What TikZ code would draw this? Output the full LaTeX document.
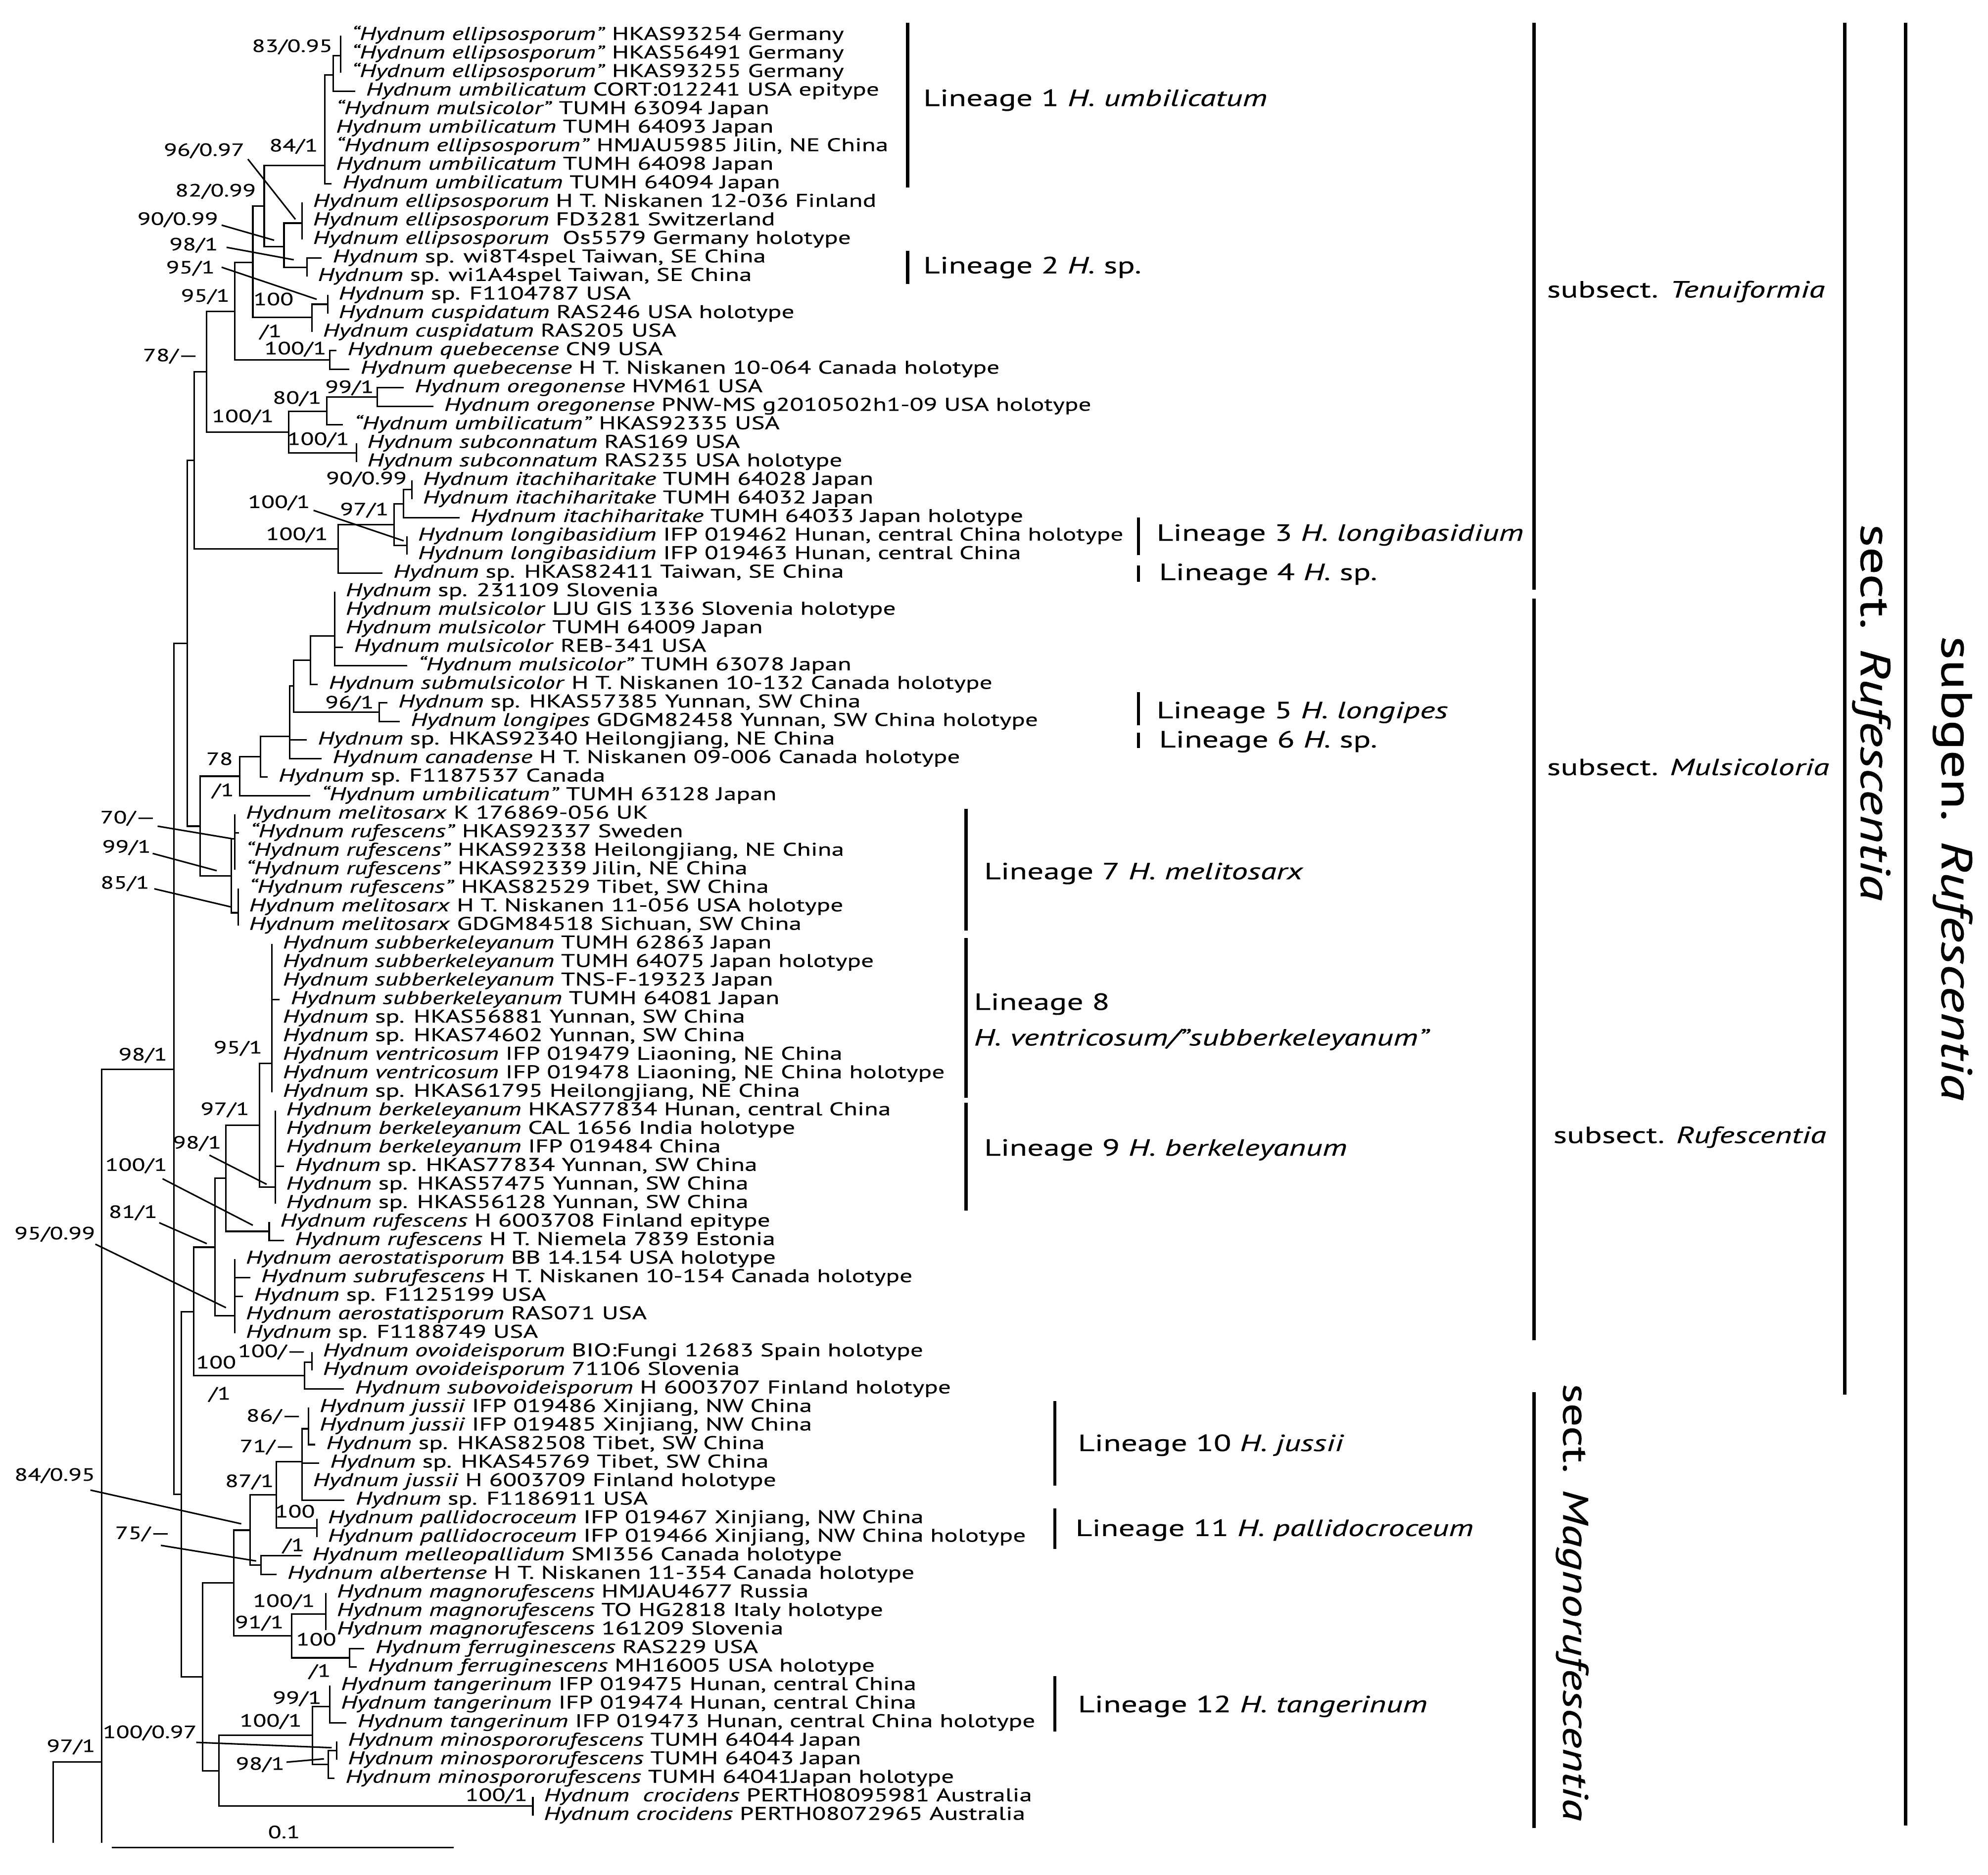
\documentclass[tikz,border=0pt]{standalone}
\usepackage{fontspec}
\setmainfont{PT Sans}[FakeStretch=1.38,FakeBold=0.3]
\newfontfamily\rotfont{PT Sans}[FakeStretch=1.3,FakeBold=0.6]
\newcommand\lv[3]{\coordinate (t#1) at (#2,{13.375+14.625*#1});\node[lf] (l#1) at (t#1) {#3};}
\begin{document}
\begin{tikzpicture}[x=1pt,y=-1pt,
  br/.style={line width=1.2pt},
  ptr/.style={line width=1.2pt},
  barline/.style={line width=2.6pt},
  lf/.style={anchor=west,inner sep=0pt,xshift=8.5pt,font=\fontsize{14.5}{14.5}\selectfont,text height=10pt,text depth=3pt},
  sup/.style={inner sep=0pt,font=\fontsize{14}{14}\selectfont,text height=10pt,text depth=2pt},
  lin/.style={anchor=west,inner sep=0pt,font=\fontsize{18.5}{18.5}\selectfont},
  subs/.style={anchor=west,inner sep=0pt,font=\fontsize{18.5}{18.5}\selectfont},
  rot/.style={rotate=-90,inner sep=0pt,font=\rotfont\fontsize{28}{28}\selectfont}]
\fill[white] (0,0) rectangle (1568,1479);
\useasboundingbox (0,0) rectangle (1568,1479);
% ---------------- leaves
\lv{1}{268.5}{\textit{“Hydnum ellipsosporum”} HKAS93254 Germany}
\lv{2}{268.5}{\textit{“Hydnum ellipsosporum”} HKAS56491 Germany}
\lv{3}{268.5}{\textit{“Hydnum ellipsosporum”} HKAS93255 Germany}
\lv{4}{280}{\textit{Hydnum umbilicatum} CORT:012241 USA epitype}
\lv{5}{256.3}{\textit{“Hydnum mulsicolor”} TUMH 63094 Japan}
\lv{6}{256.3}{\textit{Hydnum umbilicatum} TUMH 64093 Japan}
\lv{7}{256.3}{\textit{“Hydnum ellipsosporum”} HMJAU5985 Jilin, NE China}
\lv{8}{256.3}{\textit{Hydnum umbilicatum} TUMH 64098 Japan}
\lv{9}{261.5}{\textit{Hydnum umbilicatum} TUMH 64094 Japan}
\lv{10}{238.2}{\textit{Hydnum ellipsosporum} H T. Niskanen 12-036 Finland}
\lv{11}{238.2}{\textit{Hydnum ellipsosporum} FD3281 Switzerland}
\lv{12}{238.2}{\textit{Hydnum ellipsosporum}\ \ Os5579 Germany holotype}
\lv{13}{253.7}{\textit{Hydnum} sp. wi8T4spel Taiwan, SE China}
\lv{14}{242}{\textit{Hydnum} sp. wi1A4spel Taiwan, SE China}
\lv{15}{258.4}{\textit{Hydnum} sp. F1104787 USA}
\lv{16}{258.4}{\textit{Hydnum cuspidatum} RAS246 USA holotype}
\lv{17}{246}{\textit{Hydnum cuspidatum} RAS205 USA}
\lv{18}{265.4}{\textit{Hydnum quebecense} CN9 USA}
\lv{19}{275.7}{\textit{Hydnum quebecense} H T. Niskanen 10-064 Canada holotype}
\lv{20}{318.4}{\textit{Hydnum oregonense} HVM61 USA}
\lv{21}{341.7}{\textit{Hydnum oregonense} PNW-MS g2010502h1-09 USA holotype}
\lv{22}{270.6}{\textit{“Hydnum umbilicatum”} HKAS92335 USA}
\lv{23}{281}{\textit{Hydnum subconnatum} RAS169 USA}
\lv{24}{281}{\textit{Hydnum subconnatum} RAS235 USA holotype}
\lv{25}{324.9}{\textit{Hydnum itachiharitake} TUMH 64028 Japan}
\lv{26}{324.9}{\textit{Hydnum itachiharitake} TUMH 64032 Japan}
\lv{27}{362.4}{\textit{Hydnum itachiharitake} TUMH 64033 Japan holotype}
\lv{28}{321}{\textit{Hydnum longibasidium} IFP 019462 Hunan, central China holotype}
\lv{29}{321}{\textit{Hydnum longibasidium} IFP 019463 Hunan, central China}
\lv{30}{301.6}{\textit{Hydnum} sp. HKAS82411 Taiwan, SE China}
\lv{31}{264}{\textit{Hydnum} sp. 231109 Slovenia}
\lv{32}{264}{\textit{Hydnum mulsicolor} LJU GIS 1336 Slovenia holotype}
\lv{33}{264}{\textit{Hydnum mulsicolor} TUMH 64009 Japan}
\lv{34}{270.5}{\textit{Hydnum mulsicolor} REB-341 USA}
\lv{35}{321}{\textit{“Hydnum mulsicolor”} TUMH 63078 Japan}
\lv{36}{250.6}{\textit{Hydnum submulsicolor} H T. Niskanen 10-132 Canada holotype}
\lv{37}{305.5}{\textit{Hydnum} sp. HKAS57385 Yunnan, SW China}
\lv{38}{315.3}{\textit{Hydnum longipes} GDGM82458 Yunnan, SW China holotype}
\lv{39}{242}{\textit{Hydnum} sp. HKAS92340 Heilongjiang, NE China}
\lv{40}{253.7}{\textit{Hydnum canadense} H T. Niskanen 09-006 Canada holotype}
\lv{41}{211}{\textit{Hydnum} sp. F1187537 Canada}
\lv{42}{244.7}{\textit{“Hydnum umbilicatum”} TUMH 63128 Japan}
\lv{43}{185.2}{\textit{Hydnum melitosarx} K 176869-056 UK}
\lv{44}{188.6}{\textit{“Hydnum rufescens”} HKAS92337 Sweden}
\lv{45}{185.2}{\textit{“Hydnum rufescens”} HKAS92338 Heilongjiang, NE China}
\lv{46}{185.2}{\textit{“Hydnum rufescens”} HKAS92339 Jilin, NE China}
\lv{47}{187.8}{\textit{“Hydnum rufescens”} HKAS82529 Tibet, SW China}
\lv{48}{187.8}{\textit{Hydnum melitosarx} H T. Niskanen 11-056 USA holotype}
\lv{49}{187.8}{\textit{Hydnum melitosarx} GDGM84518 Sichuan, SW China}
\lv{50}{214.4}{\textit{Hydnum subberkeleyanum} TUMH 62863 Japan}
\lv{51}{214.4}{\textit{Hydnum subberkeleyanum} TUMH 64075 Japan holotype}
\lv{52}{214.4}{\textit{Hydnum subberkeleyanum} TNS-F-19323 Japan}
\lv{53}{220.6}{\textit{Hydnum subberkeleyanum} TUMH 64081 Japan}
\lv{54}{214.4}{\textit{Hydnum} sp. HKAS56881 Yunnan, SW China}
\lv{55}{214.4}{\textit{Hydnum} sp. HKAS74602 Yunnan, SW China}
\lv{56}{214.4}{\textit{Hydnum ventricosum} IFP 019479 Liaoning, NE China}
\lv{57}{214.4}{\textit{Hydnum ventricosum} IFP 019478 Liaoning, NE China holotype}
\lv{58}{214.4}{\textit{Hydnum} sp. HKAS61795 Heilongjiang, NE China}
\lv{59}{217}{\textit{Hydnum berkeleyanum} HKAS77834 Hunan, central China}
\lv{60}{217}{\textit{Hydnum berkeleyanum} CAL 1656 India holotype}
\lv{61}{217}{\textit{Hydnum berkeleyanum} IFP 019484 China}
\lv{62}{224}{\textit{Hydnum} sp. HKAS77834 Yunnan, SW China}
\lv{63}{217}{\textit{Hydnum} sp. HKAS57475 Yunnan, SW China}
\lv{64}{217}{\textit{Hydnum} sp. HKAS56128 Yunnan, SW China}
\lv{65}{212.3}{\textit{Hydnum rufescens} H 6003708 Finland epitype}
\lv{66}{224}{\textit{Hydnum rufescens} H T. Niemela 7839 Estonia}
\lv{67}{185.2}{\textit{Hydnum aerostatisporum} BB 14.154 USA holotype}
\lv{68}{197.3}{\textit{Hydnum subrufescens} H T. Niskanen 10-154 Canada holotype}
\lv{69}{191.6}{\textit{Hydnum} sp. F1125199 USA}
\lv{70}{185.2}{\textit{Hydnum aerostatisporum} RAS071 USA}
\lv{71}{185.2}{\textit{Hydnum} sp. F1188749 USA}
\lv{72}{246}{\textit{Hydnum ovoideisporum} BIO:Fungi 12683 Spain holotype}
\lv{73}{246}{\textit{Hydnum ovoideisporum} 71106 Slovenia}
\lv{74}{271.3}{\textit{Hydnum subovoideisporum} H 6003707 Finland holotype}
\lv{75}{243.4}{\textit{Hydnum jussii} IFP 019486 Xinjiang, NW China}
\lv{76}{243.4}{\textit{Hydnum jussii} IFP 019485 Xinjiang, NW China}
\lv{77}{248.6}{\textit{Hydnum} sp. HKAS82508 Tibet, SW China}
\lv{78}{251.7}{\textit{Hydnum} sp. HKAS45769 Tibet, SW China}
\lv{79}{238.2}{\textit{Hydnum jussii} H 6003709 Finland holotype}
\lv{80}{271.8}{\textit{Hydnum} sp. F1186911 USA}
\lv{81}{249.9}{\textit{Hydnum pallidocroceum} IFP 019467 Xinjiang, NW China}
\lv{82}{249.9}{\textit{Hydnum pallidocroceum} IFP 019466 Xinjiang, NW China holotype}
\lv{83}{237.7}{\textit{Hydnum melleopallidum} SMI356 Canada holotype}
\lv{84}{218}{\textit{Hydnum albertense} H T. Niskanen 11-354 Canada holotype}
\lv{85}{257}{\textit{Hydnum magnorufescens} HMJAU4677 Russia}
\lv{86}{257}{\textit{Hydnum magnorufescens} TO HG2818 Italy holotype}
\lv{87}{257}{\textit{Hydnum magnorufescens} 161209 Slovenia}
\lv{88}{287.4}{\textit{Hydnum ferruginescens} RAS229 USA}
\lv{89}{281.4}{\textit{Hydnum ferruginescens} MH16005 USA holotype}
\lv{90}{260.2}{\textit{Hydnum tangerinum} IFP 019475 Hunan, central China}
\lv{91}{260.2}{\textit{Hydnum tangerinum} IFP 019474 Hunan, central China}
\lv{92}{273.3}{\textit{Hydnum tangerinum} IFP 019473 Hunan, central China holotype}
\lv{93}{265.7}{\textit{Hydnum minospororufescens} TUMH 64044 Japan}
\lv{94}{265.7}{\textit{Hydnum minospororufescens} TUMH 64043 Japan}
\lv{95}{263.8}{\textit{Hydnum minospororufescens} TUMH 64041Japan holotype}
\lv{96}{420.3}{\textit{Hydnum\ \ crocidens} PERTH08095981 Australia}
\lv{97}{420.3}{\textit{Hydnum crocidens} PERTH08072965 Australia}
% ---------------- internal nodes
\coordinate (nA1) at (268.5,44);
\coordinate (nA) at (263,59);
\coordinate (n84) at (256.3,130.4);
\coordinate (nEll) at (238.2,176);
\coordinate (nWi) at (242,210.8);
\coordinate (n90) at (224,194.5);
\coordinate (n82) at (208.4,162.6);
\coordinate (nCuspA) at (258.4,240);
\coordinate (nCusp) at (246,250.5);
\coordinate (n82b) at (199.4,206.9);
\coordinate (nQue) at (260.2,284);
\coordinate (n95) at (185.2,245.5);
\coordinate (nOre) at (297.7,313.2);
\coordinate (n80) at (257.6,324.6);
\coordinate (nSubc) at (281,357.1);
\coordinate (n100a) at (227.8,340.8);
\coordinate (n78) at (163.1,293.2);
\coordinate (nItaA) at (324.9,386.3);
\coordinate (nIta) at (318.4,397.4);
\coordinate (nLong) at (321,430.2);
\coordinate (n97) at (310.7,413.8);
\coordinate (n100b) at (266.7,433);
\coordinate (nTen) at (153.3,363);
\coordinate (nMulA) at (264,501.5);
\coordinate (nMulB) at (244.7,520.7);
\coordinate (nLongi) at (299,561.8);
\coordinate (nMulC) at (231.7,541.2);
\coordinate (nMulD) at (228.6,581);
\coordinate (n78b) at (205.3,597);
\coordinate (nMul) at (189,612.3);
\coordinate (nMelA) at (185.2,661.5);
\coordinate (nMelB) at (187.8,720);
\coordinate (nMel) at (182.6,691);
\coordinate (nMulsub) at (158,651.7);
\coordinate (nRufA) at (147.6,507.4);
\coordinate (n95b) at (214.4,839);
\coordinate (nBerk) at (217,936.5);
\coordinate (n97b) at (204.6,887.7);
\coordinate (nRufH) at (212.3,971.3);
\coordinate (n98b) at (178.2,929.5);
\coordinate (nAero) at (185.2,1038);
\coordinate (n81) at (169.6,983.8);
\coordinate (nOvoA) at (246,1074.5);
\coordinate (nOvo) at (240.3,1085);
\coordinate (n100c) at (152.8,1034.6);
\coordinate (nJusA) at (243.4,1127);
\coordinate (nJus) at (238.2,1153);
\coordinate (nPal) at (249.9,1205.3);
\coordinate (n87) at (218,1179.2);
\coordinate (nAlb) at (205.9,1234.6);
\coordinate (n84b) at (197.3,1207);
\coordinate (nMagA) at (257,1273);
\coordinate (nFer) at (275.7,1307.7);
\coordinate (n91) at (229.9,1290.4);
\coordinate (n75) at (184.4,1248.7);
\coordinate (nTang) at (260.2,1346);
\coordinate (nMinoA) at (265.7,1380.8);
\coordinate (nMino) at (258.8,1391.8);
\coordinate (n100d) at (246.5,1368.9);
\coordinate (nCroc) at (420.3,1424.7);
\coordinate (n100e) at (172.6,1396.8);
\coordinate (nMag) at (159.8,1322.8);
\coordinate (nX) at (143.2,1178.7);
\coordinate (n98) at (137.3,843.6);
\coordinate (nRoot) at (80.3,1390);
\coordinate (rootEnd) at (80.3,1453.7);
\coordinate (nOut) at (42,1390);
\coordinate (outEnd) at (42,1453.7);
% ---------------- branches
\foreach \p/\c in {nA1/t1,nA1/t2,nA1/t3,nA/nA1,nA/t4,
  n84/nA,n84/t5,n84/t6,n84/t7,n84/t8,n84/t9,
  nEll/t10,nEll/t11,nEll/t12,nWi/t13,nWi/t14,n90/nEll,n90/nWi,n82/n84,n82/n90,
  nCuspA/t15,nCuspA/t16,nCusp/nCuspA,nCusp/t17,n82b/n82,n82b/nCusp,
  nQue/t18,nQue/t19,n95/n82b,n95/nQue,
  nOre/t20,nOre/t21,n80/nOre,n80/t22,nSubc/t23,nSubc/t24,n100a/n80,n100a/nSubc,
  n78/n95,n78/n100a,
  nItaA/t25,nItaA/t26,nIta/nItaA,nIta/t27,nLong/t28,nLong/t29,n97/nIta,n97/nLong,
  n100b/n97,n100b/t30,nTen/n78,nTen/n100b,
  nMulA/t31,nMulA/t32,nMulA/t33,nMulA/t34,nMulA/t35,nMulB/nMulA,nMulB/t36,
  nLongi/t37,nLongi/t38,nMulC/nMulB,nMulC/nLongi,nMulD/nMulC,nMulD/t39,nMulD/t40,
  n78b/nMulD,n78b/t41,nMul/n78b,nMul/t42,
  nMelA/t43,nMelA/t44,nMelA/t45,nMelA/t46,nMelB/t47,nMelB/t48,nMelB/t49,
  nMel/nMelA,nMel/nMelB,nMulsub/nMul,nMulsub/nMel,nRufA/nTen,nRufA/nMulsub,
  n95b/t50,n95b/t51,n95b/t52,n95b/t53,n95b/t54,n95b/t55,n95b/t56,n95b/t57,n95b/t58,
  nBerk/t59,nBerk/t60,nBerk/t61,nBerk/t62,nBerk/t63,nBerk/t64,n97b/n95b,n97b/nBerk,
  nRufH/t65,nRufH/t66,n98b/n97b,n98b/nRufH,
  nAero/t67,nAero/t68,nAero/t69,nAero/t70,nAero/t71,n81/n98b,n81/nAero,
  nOvoA/t72,nOvoA/t73,nOvo/nOvoA,nOvo/t74,n100c/n81,n100c/nOvo,
  nJusA/t75,nJusA/t76,nJusA/t77,nJus/nJusA,nJus/t78,nJus/t79,nJus/t80,
  nPal/t81,nPal/t82,n87/nJus,n87/nPal,nAlb/t83,nAlb/t84,n84b/n87,n84b/nAlb,
  nMagA/t85,nMagA/t86,nMagA/t87,nFer/t88,nFer/t89,n91/nMagA,n91/nFer,n75/n84b,n75/n91,
  nTang/t90,nTang/t91,nTang/t92,nMinoA/t93,nMinoA/t94,nMino/nMinoA,nMino/t95,
  n100d/nTang,n100d/nMino,nCroc/t96,nCroc/t97,n100e/n100d,n100e/nCroc,
  nMag/n75,nMag/n100e,nX/n100c,nX/nMag,n98/nRufA,n98/nX,nRoot/n98}
  {\draw[br] (\p) |- (\c);}
\draw[br] (nRoot) -- (rootEnd);
\draw[br] (outEnd) -- (nOut) -- (nRoot);
% ---------------- support values
\node[sup,anchor=east] (s1) at (262.5,37) {83/0.95};
\node[sup,anchor=east] (s2) at (193,119) {96/0.97};
\node[sup,anchor=east] (s3) at (251,115.5) {84/1};
\node[sup,anchor=east] (s4) at (202,151) {82/0.99};
\node[sup,anchor=east] (s5) at (172.2,173.4) {90/0.99};
\node[sup,anchor=east] (s6) at (172.2,193.5) {98/1};
\node[sup,anchor=east] (s7) at (169.6,211.7) {95/1};
\node[sup,anchor=east] (s8) at (181.3,234) {95/1};
\node[sup,anchor=east] (s9) at (231.7,236.8) {100};
\node[sup,anchor=west] (s10) at (204.6,262) {/1};
\node[sup,anchor=east] (s11) at (257.6,275.5) {100/1};
\node[sup,anchor=east] (s12) at (156.7,281) {78/—};
\node[sup,anchor=east] (s13) at (295.1,306) {99/1};
\node[sup,anchor=east] (s14) at (253.7,314.5) {80/1};
\node[sup,anchor=east] (s15) at (216.2,329) {100/1};
\node[sup,anchor=east] (s16) at (275.7,347) {100/1};
\node[sup,anchor=east] (s17) at (321,378) {90/0.99};
\node[sup,anchor=east] (s18) at (306.8,402.5) {97/1};
\node[sup,anchor=east] (s19) at (244.7,396.7) {100/1};
\node[sup,anchor=east] (s20) at (258.9,422) {100/1};
\node[sup,anchor=east] (s21) at (295.1,554.8) {96/1};
\node[sup,anchor=east] (s22) at (183.9,599.4) {78};
\node[sup,anchor=west] (s23) at (167,624) {/1};
\node[sup,anchor=east] (s24) at (123,645.5) {70/—};
\node[sup,anchor=east] (s25) at (119.2,668.6) {99/1};
\node[sup,anchor=east] (s26) at (117.9,697) {85/1};
\node[sup,anchor=east] (s27) at (132.1,832.5) {98/1};
\node[sup,anchor=east] (s28) at (207.1,827) {95/1};
\node[sup,anchor=east] (s29) at (196.8,875.5) {97/1};
\node[sup,anchor=east] (s30) at (174.8,902) {98/1};
\node[sup,anchor=east] (s31) at (132.1,919.6) {100/1};
\node[sup,anchor=east] (s32) at (124.3,956.7) {81/1};
\node[sup,anchor=east] (s33) at (75.2,973.6) {95/0.99};
\node[sup,anchor=east] (s34) at (242.1,1066.5) {100/—};
\node[sup,anchor=east] (s35) at (186.4,1075.4) {100};
\node[sup,anchor=west] (s36) at (164.4,1100) {/1};
\node[sup,anchor=east] (s37) at (238.2,1117.4) {86/—};
\node[sup,anchor=east] (s38) at (233,1141.5) {71/—};
\node[sup,anchor=east] (s39) at (216.2,1169) {87/1};
\node[sup,anchor=east] (s40) at (248.6,1193) {100};
\node[sup,anchor=west] (s41) at (222.7,1219.5) {/1};
\node[sup,anchor=east] (s42) at (75.2,1164) {84/0.95};
\node[sup,anchor=east] (s43) at (134.7,1210) {75/—};
\node[sup,anchor=east] (s44) at (248.6,1263.5) {100/1};
\node[sup,anchor=east] (s45) at (224,1280.4) {91/1};
\node[sup,anchor=east] (s46) at (265.4,1294) {100};
\node[sup,anchor=west] (s47) at (243.4,1318.7) {/1};
\node[sup,anchor=east] (s48) at (253.7,1340) {99/1};
\node[sup,anchor=east] (s49) at (238.2,1358) {100/1};
\node[sup,anchor=east] (s50) at (155.4,1367) {100/0.97};
\node[sup,anchor=east] (s51) at (224.6,1392) {98/1};
\node[sup,anchor=east] (s52) at (416.2,1416.6) {100/1};
\node[sup,anchor=east] (s53) at (75.4,1378) {97/1};
% ---------------- pointer lines
\foreach \a/\b/\c/\d [count=\i] in {195.5/125.5/233/173, 174.8/177.6/216.2/189.5,
  178.7/195.1/231.7/204.9, 174.8/210.8/249.8/236.1, 247.3/402.6/318.4/426.6,
  124.3/651.7/182.6/661.5, 120.4/673.2/170.9/686.8, 121.7/701.1/182.6/715.5,
  165.2/911.2/210.3/934.2, 128.2/929.8/199.4/966.5, 125.6/964.5/163.1/981,
  75.2/981.4/178.2/1031.5, 71.3/1175.4/190.3/1202, 126.9/1219/202/1231.3,
  154.8/1374.4/261.6/1378.6, 226/1390/255.5/1387.4}
  {\coordinate (pa\i) at (\a,\b); \coordinate (pb\i) at (\c,\d); \draw[ptr] (pa\i) -- (pb\i);}
% ---------------- scale bar
\coordinate (sbA) at (88.3,1457.3);
\coordinate (sbB) at (358,1457.3);
\draw[line width=1.4pt] (sbA) -- (sbB);
\node[sup] (sbl) at (224,1446) {0.1};
% ---------------- lineage brackets
\foreach \x/\ya/\yb [count=\i] in {716/18/148, 716/198/224, 898/408/438, 898/446/459,
  898/546/572, 898/578/590, 762/638/734, 762/740/866, 762/870/955,
  832/1105/1172, 832/1190/1222, 832/1322/1366,
  1210/18/465, 1210/472/1057, 1455/18/1100, 1210/1098/1442, 1503/18/1440}
  {\coordinate (ba\i) at (\x,\ya); \coordinate (bb\i) at (\x,\yb); \draw[barline] (ba\i) -- (bb\i);}
\node[lin] (L1) at (728,79) {Lineage 1 \textit{H. umbilicatum}};
\node[lin] (L2) at (728,211) {Lineage 2 \textit{H.} sp.};
\node[lin] (L3) at (912,422) {Lineage 3 \textit{H. longibasidium}};
\node[lin] (L4) at (914,453) {Lineage 4 \textit{H.} sp.};
\node[lin] (L5) at (912,562) {Lineage 5 \textit{H. longipes}};
\node[lin] (L6) at (914,585) {Lineage 6 \textit{H.} sp.};
\node[lin] (L7) at (776,689) {Lineage 7 \textit{H. melitosarx}};
\node[lin] (L8) at (768,792) {Lineage 8};
\node[lin] (L8b) at (768,820) {\textit{H. ventricosum/”subberkeleyanum”}};
\node[lin] (L9) at (776,907) {Lineage 9 \textit{H. berkeleyanum}};
\node[lin] (L10) at (850,1140) {Lineage 10 \textit{H. jussii}};
\node[lin] (L11) at (848,1207) {Lineage 11 \textit{H. pallidocroceum}};
\node[lin] (L12) at (850,1346) {Lineage 12 \textit{H. tangerinum}};
\node[subs] (S1) at (1220,230) {subsect. \textit{Tenuiformia}};
\node[subs] (S2) at (1220,605) {subsect. \textit{Mulsicoloria}};
\node[subs] (S3) at (1225,897) {subsect. \textit{Rufescentia}};
\node[rot,font=\rotfont\fontsize{33}{33}\selectfont] (R1) at (1476,562) {sect. \textit{Rufescentia}};
\node[rot] (R2) at (1240,1264) {sect. \textit{Magnorufescentia}};
\node[rot,font=\rotfont\fontsize{34}{34}\selectfont] (R3) at (1540,685) {subgen. \textit{Rufescentia}};
\end{tikzpicture}
\end{document}
